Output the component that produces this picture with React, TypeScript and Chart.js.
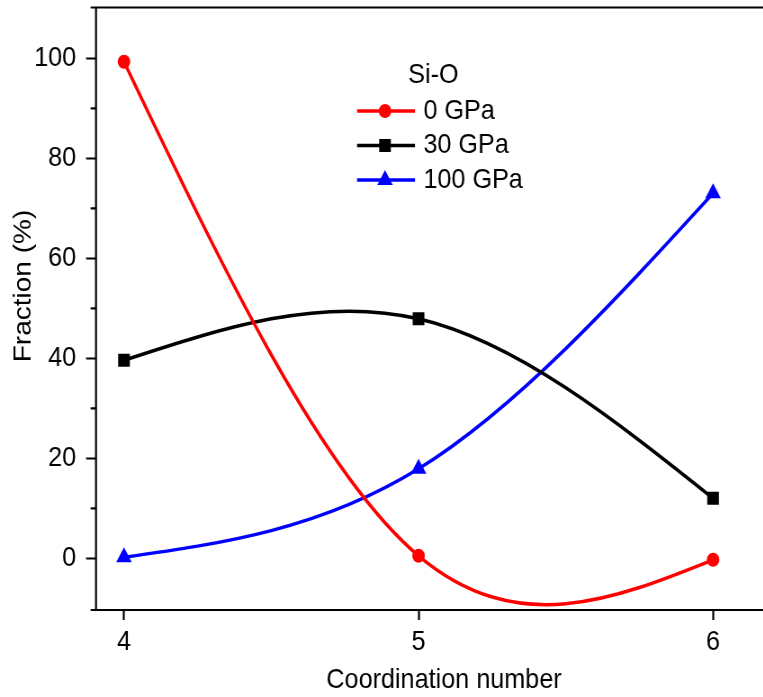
import React, { useEffect, useRef } from 'react';
import { Chart, registerables } from 'chart.js';

Chart.register(...registerables);

// Si-O coordination statistics at three pressures
const coordinationNumbers = [4, 5, 6];
const fraction0GPa = [99.3, 0.5, -0.3];
const fraction30GPa = [39.6, 47.9, 12.0];
const fraction100GPa = [0.2, 17.9, 73.0];

const seriesLabels = ['0 GPa', '30 GPa', '100 GPa'];
const seriesColors = ['#ff0000', '#000000', '#0000ff'];
const seriesMarkers = ['circle', 'rect', 'triangle'];
const seriesMarkerRadius = [7, 9.2, 10];
const legendTitle = 'Si-O';

const xTickValues = [4, 5, 6];
const yTickValues = [0, 20, 40, 60, 80, 100];
const yMinorTickValues = [10, 30, 50, 70, 90];

const xAxisTitle = 'Coordination number';
const yAxisTitle = 'Fraction (%)';

const FONT = "'Liberation Sans', Arial, Helvetica, sans-serif";
const CANVAS_W = 880;
const CANVAS_H = 697;
const SQUEEZE_X = 0.9;

// Second derivatives of a natural cubic spline through (xs, ys)
function naturalSecondDerivatives(xs: number[], ys: number[]): number[] {
  const n = xs.length;
  const M = new Array(n).fill(0);
  if (n < 3) return M;
  const a: number[] = [];
  const b: number[] = [];
  const c: number[] = [];
  const d: number[] = [];
  for (let i = 1; i < n - 1; i++) {
    const h0 = xs[i] - xs[i - 1];
    const h1 = xs[i + 1] - xs[i];
    a.push(h0);
    b.push(2 * (h0 + h1));
    c.push(h1);
    d.push(6 * ((ys[i + 1] - ys[i]) / h1 - (ys[i] - ys[i - 1]) / h0));
  }
  const m = b.length;
  for (let i = 1; i < m; i++) {
    const w = a[i] / b[i - 1];
    b[i] -= w * c[i - 1];
    d[i] -= w * d[i - 1];
  }
  const sol = new Array(m).fill(0);
  sol[m - 1] = d[m - 1] / b[m - 1];
  for (let i = m - 2; i >= 0; i--) sol[i] = (d[i] - c[i] * sol[i + 1]) / b[i];
  for (let i = 0; i < m; i++) M[i + 1] = sol[i];
  return M;
}

// Replace the default bezier control points by those of a natural cubic spline
const naturalSplinePlugin = {
  id: 'naturalSpline',
  beforeDatasetDraw(chart: any, args: any) {
    const meta = args.meta;
    const line = meta.dataset;
    const pts = meta.data;
    const raw = chart.data.datasets[args.index].data as { x: number; y: number }[];
    const xs = raw.map((p) => p.x);
    const ys = raw.map((p) => p.y);
    const n = xs.length;
    if (!line || n < 2) return;
    const M = naturalSecondDerivatives(xs, ys);
    const xS = chart.scales.x;
    const yS = chart.scales.y;
    pts[0].cp1x = pts[0].x;
    pts[0].cp1y = pts[0].y;
    pts[n - 1].cp2x = pts[n - 1].x;
    pts[n - 1].cp2y = pts[n - 1].y;
    for (let i = 0; i < n - 1; i++) {
      const h = xs[i + 1] - xs[i];
      const s = (ys[i + 1] - ys[i]) / h;
      const d0 = s - (h * (2 * M[i] + M[i + 1])) / 6;
      const d1 = s + (h * (M[i] + 2 * M[i + 1])) / 6;
      pts[i].cp2x = xS.getPixelForValue(xs[i] + h / 3);
      pts[i].cp2y = yS.getPixelForValue(ys[i] + (h / 3) * d0);
      pts[i + 1].cp1x = xS.getPixelForValue(xs[i + 1] - h / 3);
      pts[i + 1].cp1y = yS.getPixelForValue(ys[i + 1] - (h / 3) * d1);
    }
    line._pointsUpdated = true;
    line._path = undefined;
  },
};

// Axis frame, minor ticks on the value axis and the value-axis title
const framePlugin = {
  id: 'frame',
  beforeDatasetsDraw(chart: any) {
    const { ctx, chartArea } = chart;
    const { left, right, top, bottom } = chartArea;
    const yS = chart.scales.y;
    ctx.save();
    ctx.strokeStyle = '#000';
    ctx.lineWidth = 2.2;
    ctx.beginPath();
    ctx.moveTo(left - 6, top);
    ctx.lineTo(right, top);
    ctx.moveTo(left - 6, bottom);
    ctx.lineTo(right, bottom);
    ctx.moveTo(left, top);
    ctx.lineTo(left, bottom);
    for (const v of yMinorTickValues) {
      const y = yS.getPixelForValue(v);
      ctx.moveTo(left - 6, y);
      ctx.lineTo(left, y);
    }
    ctx.stroke();

    ctx.translate(26, 286);
    ctx.rotate(-Math.PI / 2);
    ctx.font = `28px ${FONT}`;
    ctx.fillStyle = '#000';
    ctx.textAlign = 'center';
    ctx.textBaseline = 'middle';
    ctx.fillText(yAxisTitle, 0, 0);
    ctx.restore();
  },
};

function drawMarker(ctx: CanvasRenderingContext2D, style: string, r: number, x: number, y: number) {
  ctx.beginPath();
  if (style === 'circle') {
    ctx.arc(x, y, r, 0, Math.PI * 2);
  } else if (style === 'rect') {
    const s = Math.SQRT1_2 * r;
    ctx.rect(x - s, y - s, 2 * s, 2 * s);
  } else {
    ctx.moveTo(x, y - r);
    ctx.lineTo(x + (Math.sqrt(3) / 2) * r, y + r / 2);
    ctx.lineTo(x - (Math.sqrt(3) / 2) * r, y + r / 2);
    ctx.closePath();
  }
  ctx.fill();
}

// Legend: title plus line-and-marker samples
const legendPlugin = {
  id: 'seriesLegend',
  afterDraw(chart: any) {
    const ctx: CanvasRenderingContext2D = chart.ctx;
    ctx.save();
    ctx.font = `28px ${FONT}`;
    ctx.textBaseline = 'middle';
    ctx.textAlign = 'left';
    ctx.fillStyle = '#000';
    ctx.fillText(legendTitle, 453.5, 75);
    const rows = [111, 145.5, 180];
    chart.data.datasets.forEach((ds: any, i: number) => {
      const y = rows[i];
      ctx.strokeStyle = ds.borderColor;
      ctx.lineWidth = ds.borderWidth;
      ctx.beginPath();
      ctx.moveTo(396.7, y);
      ctx.lineTo(461.1, y);
      ctx.stroke();
      ctx.fillStyle = ds.pointBackgroundColor;
      drawMarker(ctx, ds.pointStyle, ds.pointRadius, 427.8, y);
      ctx.fillStyle = '#000';
      ctx.fillText(ds.label, 470.4, y);
    });
    ctx.restore();
  },
};

export default function App() {
  const canvasRef = useRef<HTMLCanvasElement>(null);

  useEffect(() => {
    const canvas = canvasRef.current;
    if (!canvas) return;
    const series = [fraction0GPa, fraction30GPa, fraction100GPa];
    const chart = new Chart(canvas, {
      type: 'line',
      data: {
        datasets: series.map((vals, i) => ({
          label: seriesLabels[i],
          data: coordinationNumbers.map((x, j) => ({ x, y: vals[j] })),
          borderColor: seriesColors[i],
          backgroundColor: seriesColors[i],
          pointBackgroundColor: seriesColors[i],
          pointBorderColor: seriesColors[i],
          pointBorderWidth: 0,
          pointStyle: seriesMarkers[i],
          pointRadius: seriesMarkerRadius[i],
          borderWidth: 3.5,
          tension: 0.4,
          fill: false,
        })),
      },
      options: {
        animation: false,
        responsive: false,
        devicePixelRatio: 1,
        elements: { line: { capBezierPoints: false } },
        layout: { autoPadding: false, padding: { top: 7.5, right: 0, bottom: 0, left: 0 } },
        plugins: {
          legend: { display: false },
          tooltip: { enabled: false },
        },
        scales: {
          x: {
            type: 'linear',
            min: 3.905,
            max: 6.268,
            afterBuildTicks: (s: any) => {
              s.ticks = xTickValues.map((v) => ({ value: v }));
            },
            afterFit: (s: any) => {
              s.height = 87;
              s.paddingLeft = 0;
              s.paddingRight = 0;
            },
            border: { display: false },
            grid: {
              drawOnChartArea: false,
              drawTicks: true,
              tickLength: 10,
              tickWidth: 2.2,
              tickColor: '#000',
            },
            ticks: {
              autoSkip: false,
              maxRotation: 0,
              padding: 5,
              color: '#000',
              font: { family: FONT, size: 28 },
            },
            title: {
              display: true,
              text: xAxisTitle,
              color: '#000',
              font: { family: FONT, size: 28 },
              padding: { top: 0, bottom: 0 },
            },
          },
          y: {
            type: 'linear',
            min: -10.34,
            max: 110.16,
            afterBuildTicks: (s: any) => {
              s.ticks = yTickValues.map((v) => ({ value: v }));
            },
            afterFit: (s: any) => {
              s.width = 96 / SQUEEZE_X;
              s.paddingTop = 0;
              s.paddingBottom = 0;
            },
            border: { display: false },
            grid: {
              drawOnChartArea: false,
              drawTicks: true,
              tickLength: 11,
              tickWidth: 2,
              tickColor: '#000',
            },
            ticks: {
              padding: 11,
              color: '#000',
              font: { family: FONT, size: 28 },
            },
            title: { display: false },
          },
        },
      },
      plugins: [naturalSplinePlugin, framePlugin, legendPlugin],
    } as any);
    return () => chart.destroy();
  }, []);

  return (
    <div
      style={{
        position: 'fixed',
        left: 0,
        top: 0,
        width: 763,
        height: 697,
        overflow: 'hidden',
        background: '#fff',
      }}
    >
      <canvas
        ref={canvasRef}
        width={CANVAS_W}
        height={CANVAS_H}
        style={{
          display: 'block',
          width: CANVAS_W,
          height: CANVAS_H,
          transform: `scaleX(${SQUEEZE_X})`,
          transformOrigin: '0 0',
        }}
      />
    </div>
  );
}
